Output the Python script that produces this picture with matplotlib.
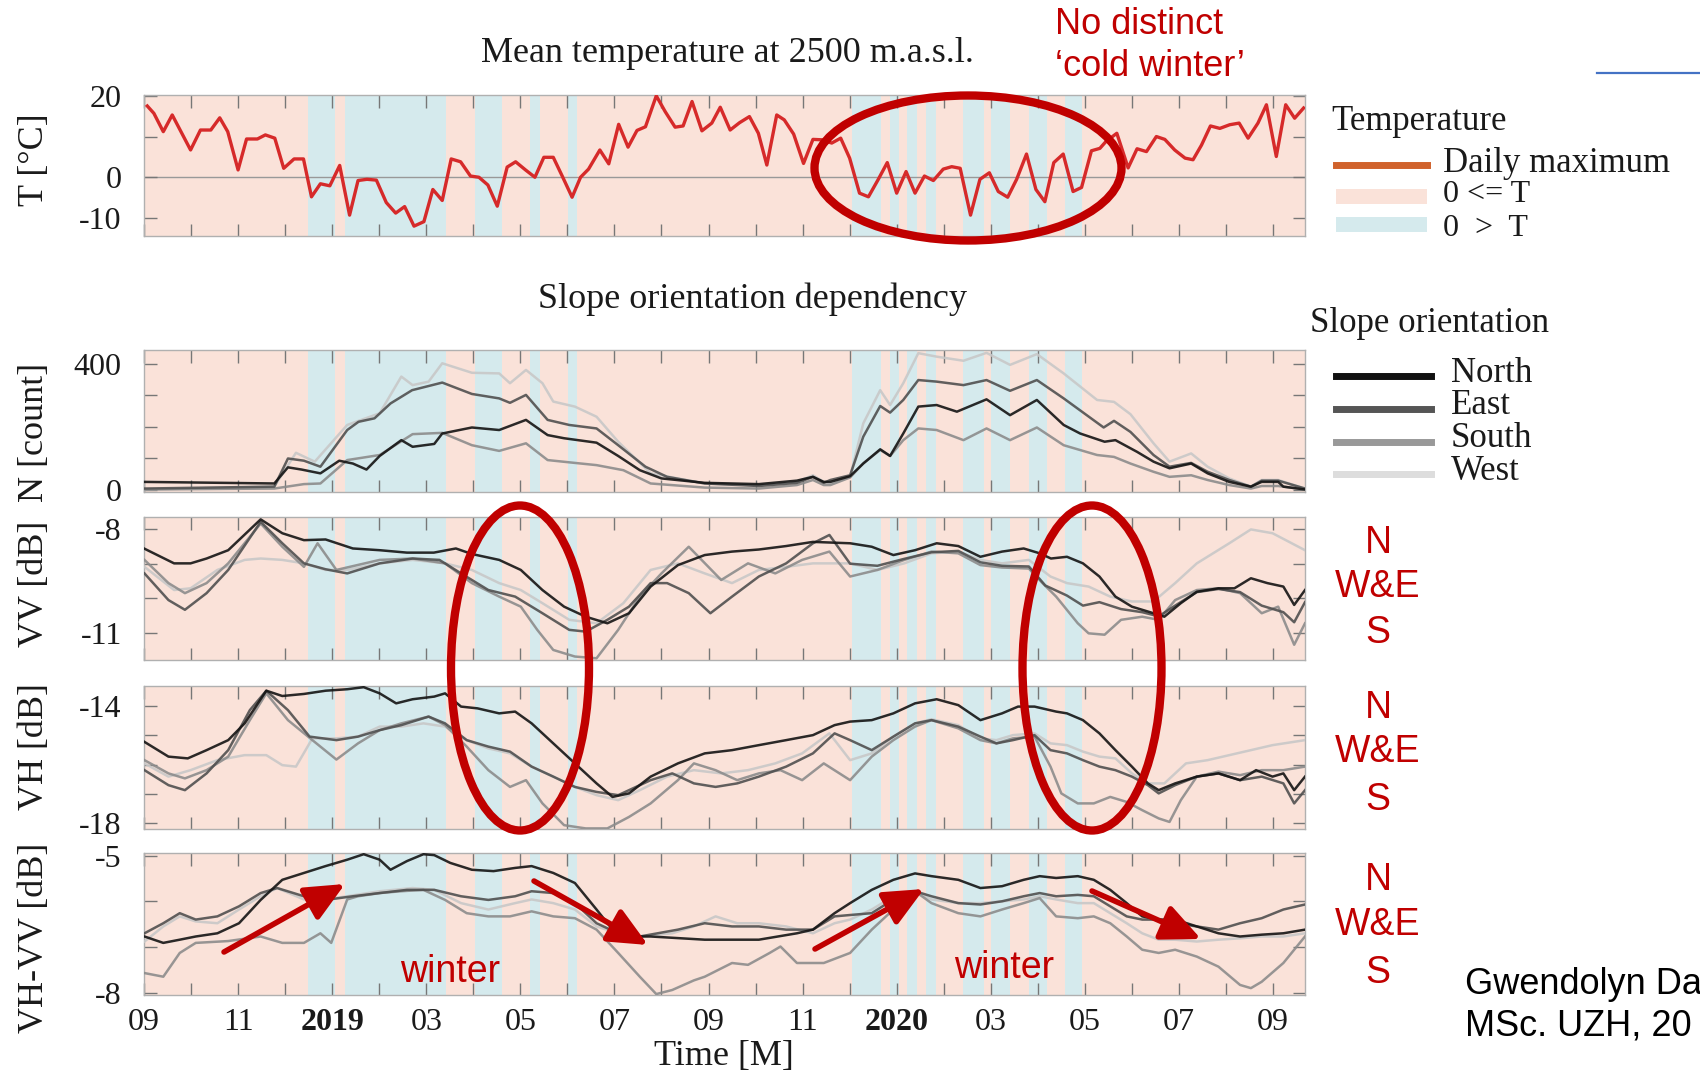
import matplotlib

matplotlib.use('Agg')
import matplotlib.pyplot as plt
from matplotlib.patches import Ellipse, Rectangle, FancyArrowPatch
from matplotlib.lines import Line2D

plt.rcParams['font.family'] = ['Liberation Serif', 'DejaVu Serif']
SANS = ['Liberation Sans', 'DejaVu Sans']

# x axis: months since 1 Sep 2018
month_labels = ['09', '', '11', '', '2019', '', '03', '', '05', '', '07', '', '09',
                '', '11', '', '2020', '', '03', '', '05', '', '07', '', '09']

# periods with mean temperature below zero (blue background)
frost_periods = [(3.49, 4.06), (4.27, 6.43), (7.03, 7.60), (8.21, 8.41), (9.01, 9.21),
                 (15.05, 15.67), (15.85, 16.05), (16.23, 16.43), (16.63, 16.83),
                 (17.41, 17.85), (18.00, 18.40), (18.82, 19.20), (19.58, 19.93)]

# daily maximum temperature (month, degC)
t_daily_max = [(0.07, 17.5), (0.21, 15.7), (0.41, 11.2), (0.60, 15.3), (0.99, 6.7), (1.20, 11.6),
               (1.42, 11.6), (1.61, 14.6), (1.78, 11.2), (2.00, 1.8), (2.18, 9.4), (2.41, 9.4),
               (2.58, 10.4), (2.78, 9.6), (2.97, 2.2), (3.19, 4.5), (3.39, 4.5), (3.56, -4.8),
               (3.75, -1.6), (3.95, -2.1), (4.16, 2.9), (4.37, -9.3), (4.55, -0.8), (4.74, -0.5),
               (4.94, -0.7), (5.15, -6.2), (5.35, -8.8), (5.54, -7.2), (5.74, -12.0), (5.95, -10.9),
               (6.14, -3.0), (6.34, -5.7), (6.53, 4.5), (6.73, 3.8), (6.94, 0.3), (7.12, 0.0),
               (7.31, -1.9), (7.51, -7.1), (7.72, 2.5), (7.90, 3.8), (8.11, 1.8), (8.31, 0.0),
               (8.50, 4.9), (8.70, 4.9), (8.89, 0.3), (9.10, -4.9), (9.28, 0.0), (9.45, 2.0),
               (9.69, 6.7), (9.88, 3.3), (10.09, 13.0), (10.29, 7.4), (10.48, 11.5), (10.66, 12.4),
               (10.89, 20.0), (11.08, 16.1), (11.29, 12.3), (11.46, 12.6), (11.65, 18.6), (11.86, 11.4),
               (12.07, 13.3), (12.25, 17.2), (12.46, 11.6), (12.66, 13.4), (12.87, 14.9), (13.06, 10.8),
               (13.24, 3.0), (13.45, 15.3), (13.61, 14.1), (13.81, 10.6), (14.02, 3.4), (14.22, 9.3),
               (14.41, 9.2), (14.62, 8.4), (14.81, 9.6), (15.00, 4.7), (15.21, -3.9), (15.40, -4.8),
               (15.60, -0.7), (15.80, 3.6), (16.00, -3.9), (16.20, 1.4), (16.39, -3.9), (16.59, 0.3),
               (16.78, -0.8), (16.99, 2.0), (17.17, 2.6), (17.35, 2.2), (17.57, -9.3), (17.77, -0.5),
               (17.97, 1.1), (18.16, -3.5), (18.36, -4.9), (18.55, -0.5), (18.76, 5.7), (18.96, -3.0),
               (19.15, -6.0), (19.34, 3.6), (19.54, 5.7), (19.75, -3.5), (19.93, -2.5), (20.14, 6.5),
               (20.32, 7.1), (20.45, 8.8), (20.68, 10.8), (20.92, 2.3), (21.11, 7.0), (21.31, 6.3),
               (21.52, 10.0), (21.70, 9.3), (21.91, 6.7), (22.13, 4.7), (22.30, 4.3), (22.48, 7.9),
               (22.67, 12.6), (22.87, 12.0), (23.08, 12.9), (23.28, 13.3), (23.47, 9.6), (23.68, 13.3),
               (23.86, 17.8), (24.07, 5.1), (24.27, 17.8), (24.46, 14.5), (24.65, 17.0)]

# N [count]
n_north = [(0.0, 26), (2.77, 21), (3.06, 72), (3.35, 65), (3.75, 53), (4.15, 93), (4.44, 84), (4.73, 65),
           (5.01, 108), (5.47, 158), (5.71, 137), (6.17, 146), (6.34, 179), (6.97, 198), (7.55, 190),
           (8.12, 222), (8.58, 174), (8.93, 164), (9.62, 150), (10.08, 108), (10.54, 63), (11.00, 37),
           (11.92, 23), (13.07, 19), (13.88, 30), (14.22, 42), (14.45, 26), (14.59, 26), (15.01, 44),
           (15.29, 84), (15.65, 129), (15.86, 108), (16.14, 179), (16.46, 264), (16.85, 269), (17.28, 248),
           (17.91, 287), (18.41, 237), (18.98, 285), (19.55, 206), (19.90, 179), (20.42, 153), (20.65, 158),
           (21.11, 121), (21.46, 90), (21.80, 69), (22.26, 84), (22.61, 53), (23.07, 26), (23.53, 11),
           (23.76, 26), (24.11, 26), (24.22, 11), (24.68, 2)]
n_east = [(0.0, 5), (2.77, 11), (3.06, 100), (3.40, 93), (3.75, 74), (4.32, 190), (4.56, 216), (4.90, 227),
          (5.24, 274), (5.70, 316), (6.34, 340), (6.97, 304), (7.55, 290), (7.78, 276), (8.12, 301),
          (8.58, 222), (9.04, 206), (9.62, 195), (10.08, 142), (10.66, 74), (11.12, 42), (11.92, 21),
          (13.07, 13), (13.88, 23), (14.22, 42), (14.45, 23), (14.59, 32), (15.01, 47), (15.29, 169),
          (15.65, 266), (15.86, 245), (16.14, 285), (16.46, 348), (16.85, 343), (17.42, 332), (17.91, 348),
          (18.41, 314), (18.98, 348), (19.55, 290), (20.40, 198), (20.62, 219), (20.97, 184), (21.46, 111),
          (21.80, 74), (22.26, 86), (22.61, 58), (23.07, 32), (23.53, 11), (23.76, 30), (24.11, 30),
          (24.68, 5)]
n_south = [(0.0, 2), (2.77, 5), (3.40, 19), (3.75, 21), (4.32, 95), (5.01, 111), (5.71, 177), (6.34, 181),
           (6.97, 142), (7.55, 124), (8.12, 148), (8.58, 95), (9.16, 86), (9.62, 79), (10.19, 63),
           (10.77, 21), (11.92, 8), (13.07, 5), (13.88, 16), (14.22, 32), (14.45, 16), (14.59, 16),
           (15.01, 40), (15.29, 85), (15.65, 127), (15.86, 108), (16.14, 158), (16.46, 195), (16.85, 190),
           (17.42, 158), (17.91, 195), (18.41, 158), (18.98, 198), (19.55, 142), (20.26, 111), (20.62, 105),
           (20.97, 84), (21.46, 58), (21.80, 42), (22.26, 47), (22.61, 32), (23.07, 16), (23.53, 5),
           (23.76, 13), (24.11, 13), (24.68, 2)]
n_west = [(0.0, 2), (2.77, 11), (3.23, 118), (3.63, 90), (4.32, 206), (5.01, 243), (5.47, 359), (5.71, 332),
          (6.05, 343), (6.34, 401), (6.97, 371), (7.55, 369), (7.78, 338), (8.12, 380), (8.47, 338),
          (8.70, 280), (9.16, 264), (9.62, 232), (10.08, 153), (10.77, 53), (11.92, 21), (13.07, 16),
          (13.88, 26), (14.22, 47), (14.45, 26), (14.59, 21), (15.01, 42), (15.29, 211), (15.65, 316),
          (15.86, 269), (16.14, 338), (16.46, 433), (16.85, 422), (17.42, 409), (17.91, 434), (18.41, 396),
          (18.98, 430), (19.55, 369), (20.26, 285), (20.62, 279), (20.97, 240), (21.46, 148), (21.80, 90),
          (22.26, 116), (22.61, 74), (23.07, 37), (23.53, 11), (23.76, 32), (24.11, 32), (24.68, 5)]

# VV [dB]
vv_north = [(0.0, -8.56), (0.64, -8.99), (0.99, -8.99), (1.33, -8.85), (1.79, -8.61), (2.48, -7.72),
            (2.94, -8.12), (3.40, -8.32), (3.86, -8.30), (4.44, -8.56), (5.01, -8.61), (5.59, -8.68),
            (6.16, -8.68), (6.63, -8.56), (6.97, -8.72), (7.55, -8.89), (8.01, -9.18), (8.47, -9.76),
            (8.93, -10.24), (9.39, -10.53), (9.85, -10.72), (10.31, -10.43), (10.77, -9.66), (11.35, -9.04),
            (11.92, -8.75), (12.50, -8.65), (13.07, -8.59), (13.65, -8.49), (14.22, -8.37), (15.01, -8.41),
            (15.47, -8.51), (15.93, -8.75), (16.39, -8.61), (16.85, -8.41), (17.31, -8.49), (17.78, -8.80),
            (18.24, -8.65), (18.70, -8.56), (19.04, -8.70), (19.28, -8.85), (19.62, -8.80), (19.96, -8.99),
            (20.31, -9.37), (20.65, -9.95), (21.00, -10.24), (21.46, -10.43), (21.69, -10.53), (22.04, -10.14),
            (22.38, -9.81), (22.84, -9.71), (23.18, -9.71), (23.53, -9.42), (23.88, -9.56), (24.22, -9.66),
            (24.45, -10.19), (24.68, -9.76)]
vv_east = [(0.01, -9.28), (0.52, -10.05), (0.87, -10.33), (1.33, -9.85), (1.79, -9.18), (2.48, -7.79),
           (2.94, -8.41), (3.40, -8.99), (3.86, -9.16), (4.32, -9.28), (5.01, -8.99), (5.71, -8.85),
           (6.28, -8.89), (6.74, -9.28), (7.32, -9.76), (7.89, -9.95), (8.47, -10.43), (9.04, -10.91),
           (9.39, -10.96), (9.85, -10.62), (10.31, -10.24), (10.77, -9.56), (11.12, -9.56), (11.58, -9.85),
           (12.04, -10.43), (12.50, -9.95), (13.07, -9.37), (13.65, -8.99), (14.22, -8.41), (14.57, -8.17),
           (15.01, -9.00), (15.59, -9.06), (16.16, -8.86), (16.74, -8.67), (17.31, -8.63), (17.78, -8.96),
           (18.24, -9.06), (18.81, -9.08), (19.16, -9.63), (19.62, -9.92), (19.96, -10.21), (20.31, -10.11),
           (20.77, -10.31), (21.22, -10.40), (21.57, -10.52), (21.92, -10.21), (22.38, -9.82), (22.84, -9.73),
           (23.30, -9.82), (23.76, -10.21), (24.22, -10.40), (24.45, -10.69), (24.68, -10.11)]
vv_south = [(0.01, -8.89), (0.52, -9.56), (0.87, -9.85), (1.33, -9.56), (1.79, -8.99), (2.48, -7.84),
            (2.94, -8.51), (3.40, -9.09), (3.69, -8.41), (4.09, -9.18), (5.01, -8.89), (5.71, -8.85),
            (6.40, -8.99), (6.97, -9.56), (7.55, -9.95), (8.01, -10.24), (8.36, -10.91), (8.70, -11.49),
            (9.16, -11.68), (9.62, -11.73), (10.08, -10.91), (10.54, -9.95), (11.00, -9.28), (11.58, -8.51),
            (12.27, -9.47), (12.84, -8.99), (13.42, -9.28), (13.99, -8.89), (14.57, -8.65), (15.01, -9.37),
            (15.59, -9.18), (16.16, -8.89), (16.74, -8.65), (17.31, -8.70), (17.78, -9.04), (18.24, -9.11),
            (18.81, -9.14), (19.10, -9.56), (19.39, -9.95), (19.85, -10.72), (20.08, -11.01), (20.42, -11.05),
            (20.77, -10.62), (21.22, -10.53), (21.57, -10.62), (21.92, -10.05), (22.38, -9.76), (22.84, -9.71),
            (23.30, -9.85), (23.76, -10.43), (24.11, -10.24), (24.45, -11.34), (24.68, -10.72)]
vv_west = [(0.01, -9.09), (0.64, -9.76), (0.99, -9.71), (1.56, -9.18), (2.14, -8.89), (2.48, -8.85),
           (2.94, -8.89), (3.40, -8.99), (3.86, -9.18), (4.32, -9.18), (5.01, -8.99), (5.71, -8.89),
           (6.40, -8.99), (6.97, -9.18), (7.55, -9.56), (8.01, -9.76), (8.47, -10.14), (9.04, -10.62),
           (9.62, -10.72), (10.19, -10.14), (10.77, -9.18), (11.35, -8.99), (11.92, -9.28), (12.50, -9.56),
           (13.07, -9.18), (13.65, -9.09), (14.22, -8.99), (15.01, -8.99), (15.59, -9.18), (16.16, -8.99),
           (16.74, -8.70), (17.31, -8.65), (17.78, -8.89), (18.24, -8.99), (18.81, -8.89), (19.27, -9.37),
           (19.62, -9.56), (20.08, -9.66), (20.54, -9.95), (21.00, -10.09), (21.46, -10.09), (21.92, -9.56),
           (22.38, -8.99), (23.07, -8.41), (23.53, -8.01), (23.99, -8.12), (24.68, -8.61)]

# VH [dB]
vh_north = [(0.0, -15.22), (0.52, -15.73), (0.93, -15.79), (1.33, -15.51), (1.79, -15.17), (2.14, -14.60),
            (2.60, -13.49), (2.94, -13.67), (3.40, -13.60), (3.86, -13.49), (4.32, -13.44), (4.67, -13.37),
            (5.01, -13.58), (5.36, -13.92), (5.71, -13.78), (6.17, -13.69), (6.40, -13.58), (6.74, -14.03),
            (7.09, -14.09), (7.55, -14.26), (7.89, -14.20), (8.24, -14.60), (8.70, -15.28), (9.16, -15.96),
            (9.62, -16.64), (9.96, -17.10), (10.31, -16.98), (10.77, -16.41), (11.35, -15.96), (11.92, -15.62),
            (12.50, -15.51), (13.07, -15.34), (13.65, -15.17), (14.22, -15.00), (14.68, -14.66), (15.01, -14.54),
            (15.47, -14.49), (15.93, -14.26), (16.39, -13.92), (16.85, -13.78), (17.31, -13.98), (17.78, -14.49),
            (18.24, -14.26), (18.58, -14.03), (18.93, -14.03), (19.39, -14.20), (19.62, -14.26), (19.96, -14.49),
            (20.31, -14.94), (20.65, -15.51), (21.00, -16.07), (21.34, -16.64), (21.57, -16.87), (21.92, -16.64),
            (22.38, -16.41), (22.84, -16.30), (23.30, -16.53), (23.64, -16.19), (23.99, -16.41), (24.22, -16.30),
            (24.45, -16.87), (24.68, -16.41)]
vh_east = [(0.01, -16.19), (0.52, -16.70), (0.87, -16.87), (1.33, -16.30), (1.79, -15.51), (2.25, -14.15),
           (2.60, -13.49), (3.06, -14.15), (3.52, -15.05), (4.09, -15.17), (4.55, -15.05), (5.01, -14.83),
           (5.47, -14.66), (6.05, -14.37), (6.40, -14.60), (6.86, -15.17), (7.32, -15.39), (7.78, -15.56),
           (8.24, -16.07), (8.70, -16.41), (9.16, -16.76), (9.62, -16.93), (10.08, -17.04), (10.77, -16.53),
           (11.23, -16.30), (11.69, -16.64), (12.15, -16.76), (12.61, -16.64), (13.07, -16.41), (13.65, -16.07),
           (14.22, -15.62), (14.68, -14.94), (15.01, -15.17), (15.47, -15.51), (15.93, -15.05), (16.39, -14.60),
           (16.74, -14.49), (17.31, -14.71), (17.78, -15.05), (18.12, -15.28), (18.47, -15.17), (18.93, -15.00),
           (19.27, -15.51), (19.62, -15.62), (19.96, -15.85), (20.31, -16.07), (20.65, -16.19), (21.00, -16.41),
           (21.34, -16.70), (21.57, -16.98), (21.92, -16.70), (22.38, -16.41), (22.84, -16.30), (23.30, -16.53),
           (23.76, -16.41), (24.22, -16.64), (24.45, -17.32), (24.68, -16.87)]
vh_south = [(0.01, -15.85), (0.52, -16.30), (0.87, -16.47), (1.33, -16.19), (1.79, -15.73), (2.25, -14.49),
            (2.60, -13.58), (3.06, -14.49), (3.58, -15.17), (4.09, -15.83), (4.55, -15.28), (5.01, -14.83),
            (5.47, -14.60), (6.05, -14.37), (6.40, -14.66), (6.86, -15.39), (7.32, -16.19), (7.78, -16.76),
            (8.12, -16.53), (8.47, -17.32), (8.93, -18.06), (9.39, -18.17), (9.85, -18.17), (10.31, -17.78),
            (10.77, -17.32), (11.35, -16.53), (11.69, -15.96), (12.15, -16.19), (12.61, -16.53), (13.07, -16.30),
            (13.53, -16.19), (13.99, -16.53), (14.45, -15.96), (15.01, -16.53), (15.47, -15.73), (15.93, -15.17),
            (16.39, -14.71), (16.74, -14.49), (17.31, -14.77), (17.78, -15.17), (18.12, -15.28), (18.47, -15.11),
            (18.93, -15.05), (19.27, -16.07), (19.50, -16.98), (19.85, -17.32), (20.19, -17.32), (20.54, -17.10),
            (20.89, -17.27), (21.22, -17.55), (21.57, -17.83), (21.80, -17.95), (22.04, -17.21), (22.38, -16.41),
            (22.84, -16.24), (23.30, -16.36), (23.76, -16.19), (24.22, -16.19), (24.68, -16.07)]
vh_west = [(0.01, -15.96), (0.52, -16.41), (0.99, -16.19), (1.56, -15.85), (2.14, -15.68), (2.60, -15.68),
           (2.94, -16.02), (3.23, -16.07), (3.58, -15.11), (4.09, -15.11), (4.55, -15.05), (5.01, -14.71),
           (5.47, -14.71), (5.94, -14.60), (6.40, -14.71), (6.86, -15.17), (7.32, -15.45), (7.78, -15.62),
           (8.24, -16.07), (8.70, -16.41), (9.16, -16.76), (9.62, -17.04), (10.08, -17.21), (10.54, -16.87),
           (11.12, -16.41), (11.69, -16.19), (12.27, -16.30), (12.84, -16.19), (13.42, -15.96), (13.99, -15.62),
           (14.57, -14.94), (15.01, -15.85), (15.47, -15.62), (15.93, -15.05), (16.39, -14.60), (16.74, -14.46),
           (17.31, -14.66), (17.78, -15.11), (18.12, -15.17), (18.47, -15.00), (18.93, -14.94), (19.27, -15.28),
           (19.62, -15.34), (19.96, -15.56), (20.31, -15.73), (20.65, -15.79), (21.00, -16.30), (21.34, -16.64),
           (21.69, -16.64), (22.15, -15.96), (22.61, -15.85), (23.07, -15.68), (23.53, -15.51), (23.99, -15.34),
           (24.68, -15.17)]

# VH-VV [dB]
d_north = [(0.01, -6.77), (0.41, -6.91), (0.76, -6.84), (1.10, -6.77), (1.56, -6.70), (2.02, -6.48),
           (2.48, -5.97), (2.94, -5.53), (3.40, -5.38), (3.86, -5.23), (4.32, -5.09), (4.67, -4.97),
           (5.01, -5.09), (5.24, -5.31), (5.59, -5.12), (5.94, -4.97), (6.17, -4.99), (6.51, -5.16),
           (6.97, -5.31), (7.43, -5.34), (7.89, -5.27), (8.24, -5.23), (8.70, -5.38), (9.16, -5.60),
           (9.62, -6.18), (9.96, -6.62), (10.31, -6.77), (10.77, -6.77), (11.92, -6.84), (13.07, -6.84),
           (13.88, -6.70), (14.22, -6.62), (14.68, -6.26), (15.01, -6.04), (15.47, -5.75), (15.93, -5.53),
           (16.39, -5.39), (16.74, -5.45), (17.31, -5.53), (17.78, -5.71), (18.24, -5.67), (18.70, -5.53),
           (19.04, -5.45), (19.39, -5.49), (19.85, -5.45), (20.19, -5.53), (20.54, -5.75), (20.89, -6.04),
           (21.22, -6.33), (21.57, -6.40), (21.92, -6.40), (22.38, -6.55), (22.84, -6.70), (23.30, -6.77),
           (23.76, -6.73), (24.22, -6.70), (24.68, -6.62)]
d_east = [(0.01, -6.70), (0.41, -6.48), (0.76, -6.26), (1.10, -6.40), (1.56, -6.33), (2.02, -6.11),
          (2.48, -5.82), (2.83, -5.71), (3.40, -5.89), (3.86, -5.97), (4.44, -5.89), (5.01, -5.82),
          (5.59, -5.75), (6.17, -5.75), (6.74, -5.89), (7.32, -5.97), (7.89, -5.89), (8.24, -5.78),
          (8.70, -5.82), (9.16, -6.04), (9.62, -6.48), (10.08, -6.70), (10.54, -6.77), (11.35, -6.62),
          (11.92, -6.48), (12.50, -6.55), (13.07, -6.55), (13.65, -6.62), (14.22, -6.62), (14.68, -6.33),
          (15.01, -6.30), (15.47, -6.26), (15.93, -5.96), (16.39, -5.78), (16.74, -5.89), (17.31, -6.04),
          (17.78, -6.07), (18.24, -6.00), (18.70, -5.89), (19.04, -5.82), (19.39, -5.89), (19.85, -5.86),
          (20.19, -5.89), (20.54, -6.11), (20.89, -6.33), (21.22, -6.40), (21.57, -6.40), (21.92, -6.48),
          (22.38, -6.55), (22.84, -6.62), (23.30, -6.48), (23.76, -6.37), (24.22, -6.18), (24.68, -6.07)]
d_south = [(0.01, -7.57), (0.41, -7.65), (0.76, -7.13), (1.10, -6.91), (1.79, -6.87), (2.48, -6.77),
           (2.94, -6.91), (3.40, -6.91), (3.75, -6.70), (3.98, -6.91), (4.32, -5.96), (4.55, -5.89),
           (5.01, -5.82), (5.47, -5.78), (5.94, -5.75), (6.40, -5.97), (6.86, -6.26), (7.32, -6.33),
           (7.78, -6.33), (8.24, -6.22), (8.70, -6.33), (9.16, -6.37), (9.62, -6.62), (10.08, -7.13),
           (10.54, -7.65), (10.89, -8.03), (11.23, -7.94), (11.69, -7.73), (11.92, -7.65), (12.50, -7.35),
           (12.84, -7.39), (13.30, -7.13), (13.53, -6.99), (13.88, -7.35), (14.45, -7.35), (15.01, -7.13),
           (15.47, -6.62), (15.93, -6.18), (16.39, -5.78), (16.74, -6.04), (17.31, -6.26), (17.78, -6.33),
           (18.24, -6.18), (18.70, -6.04), (19.04, -5.93), (19.39, -6.33), (19.85, -6.37), (20.19, -6.33),
           (20.54, -6.48), (20.89, -6.77), (21.22, -7.06), (21.57, -7.13), (21.92, -7.06), (22.38, -7.21),
           (22.84, -7.43), (23.30, -7.83), (23.53, -7.90), (23.76, -7.76), (24.22, -7.35), (24.68, -6.77)]
d_west = [(0.01, -6.88), (0.41, -6.55), (0.76, -6.33), (1.10, -6.44), (1.56, -6.48), (2.02, -6.18),
          (2.48, -5.89), (2.83, -5.71), (3.40, -5.96), (3.86, -5.96), (4.32, -5.89), (5.01, -5.78),
          (5.71, -5.71), (6.17, -5.75), (6.74, -6.04), (7.32, -6.18), (7.89, -6.04), (8.24, -5.96),
          (8.70, -6.04), (9.16, -6.18), (9.62, -6.55), (10.08, -6.70), (10.54, -6.77), (11.23, -6.70),
          (11.69, -6.55), (12.15, -6.33), (12.61, -6.48), (13.07, -6.48), (13.65, -6.55), (14.22, -6.70),
          (14.68, -6.48), (15.01, -6.40), (15.47, -6.18), (15.93, -5.89), (16.39, -5.78), (16.74, -5.96),
          (17.31, -6.04), (17.78, -6.04), (18.24, -6.00), (18.70, -5.96), (19.04, -5.89), (19.39, -5.96),
          (19.85, -6.04), (20.19, -6.04), (20.54, -6.26), (20.89, -6.48), (21.22, -6.70), (21.57, -6.84),
          (21.92, -6.84), (22.38, -6.88), (22.84, -6.84), (23.30, -6.81), (23.76, -6.77), (24.22, -6.77),
          (24.68, -6.70)]

PINK = '#fae2d9'
BLUE = '#d5eaed'
RED = '#c00000'
TXT = '#1a1a1a'
orient_colors = {'North': '#141414', 'East': '#505050', 'South': '#8c8c8c', 'West': '#c8c8c8'}
legend_colors = {'North': '#111111', 'East': '#555555', 'South': '#999999', 'West': '#dddddd'}

W, H = 1700, 1079
fig = plt.figure(figsize=(W / 100, H / 100), dpi=100)


def fx(px):
    return px / W


def fy(py):
    return 1 - py / H


def add_panel(top, bottom):
    return fig.add_axes([fx(144), fy(bottom), fx(1305) - fx(144), (bottom - top) / H])


ax_t = add_panel(95, 235.7)
ax_n = add_panel(350, 491.7)
ax_vv = add_panel(517.3, 660)
ax_vh = add_panel(686, 829)
ax_d = add_panel(853.3, 995)
all_axes = [ax_t, ax_n, ax_vv, ax_vh, ax_d]

for ax in all_axes:
    ax.set_facecolor(PINK)
    for a, b in frost_periods:
        ax.axvspan(a, b, color=BLUE, lw=0, zorder=0)
    ax.set_xlim(0, 24.68)
    ax.set_xticks(range(25))
    ax.tick_params(direction='in', length=9, width=1, color='#777777', top=True, right=True,
                   labelsize=23, labelcolor=TXT, pad=16)
    ax.tick_params(axis='x', labelbottom=False)
    for s in ax.spines.values():
        s.set_color('#b0b0b0')
        s.set_linewidth(1)

# temperature panel
tx, tv = zip(*t_daily_max)
ax_t.axhline(0, color='#999999', lw=1, zorder=1)
ax_t.plot(tx, tv, color='#d62a2a', lw=2.4, zorder=3)
ax_t.set_ylim(-14.35, 20.2)
ax_t.set_yticks([-10, 0, 10, 20], ['-10', '0', '', '20'])

panel_series = [
    (ax_n, {'North': n_north, 'East': n_east, 'South': n_south, 'West': n_west},
     (-5, 443), [0, 100, 200, 300, 400], ['0', '', '', '', '400']),
    (ax_vv, {'North': vv_north, 'East': vv_east, 'South': vv_south, 'West': vv_west},
     (-11.78, -7.66), [-11, -10, -9, -8], ['-11', '', '', '-8']),
    (ax_vh, {'North': vh_north, 'East': vh_east, 'South': vh_south, 'West': vh_west},
     (-18.19, -13.33), [-18, -17, -16, -15, -14], ['-18', '', '', '', '-14']),
    (ax_d, {'North': d_north, 'East': d_east, 'South': d_south, 'West': d_west},
     (-8.05, -4.95), [-8, -7, -6, -5], ['-8', '', '', '-5']),
]
for ax, series, ylim, ticks, labels in panel_series:
    for name in ['West', 'South', 'East', 'North']:
        xs, ys = zip(*series[name])
        ax.plot(xs, ys, color=orient_colors[name], lw=1.8, alpha=0.9, zorder=3)
    ax.set_ylim(*ylim)
    ax.set_yticks(ticks, labels)

ax_d.tick_params(axis='x', labelbottom=True, pad=9)
ax_d.set_xticks(range(25), month_labels)
for lbl in ax_d.get_xticklabels():
    if lbl.get_text() in ('2019', '2020'):
        lbl.set_fontweight('bold')

# titles and axis labels
fig.text(fx(727), fy(53), 'Mean temperature at 2500 m.a.s.l.', ha='center', va='center', fontsize=26, color=TXT)
fig.text(fx(753), fy(299), 'Slope orientation dependency', ha='center', va='center', fontsize=26, color=TXT)
fig.text(fx(724), fy(1057), 'Time [M]', ha='center', va='center', fontsize=26, color=TXT)
for label, yc in [('T [°C]', 160), ('N [count]', 432), ('VV [dB]', 584), ('VH [dB]', 747), ('VH-VV [dB]', 938)]:
    fig.text(fx(35), fy(yc), label, rotation=90, ha='center', va='center', fontsize=26, color=TXT)

# temperature legend
fig.text(fx(1331), fy(121), 'Temperature', ha='left', va='center', fontsize=25, color=TXT)
fig.add_artist(Line2D([fx(1336), fx(1427)], [fy(165), fy(165)], transform=fig.transFigure,
                      color='#d0622c', lw=5))
fig.text(fx(1443), fy(163), 'Daily maximum', ha='left', va='center', fontsize=25, color=TXT)
fig.add_artist(Rectangle((fx(1336), fy(204)), fx(1427) - fx(1336), 15 / H, transform=fig.transFigure,
                         color=PINK, lw=0))
fig.text(fx(1443), fy(195), '0 <= T', ha='left', va='center', fontsize=23, color=TXT)
fig.add_artist(Rectangle((fx(1336), fy(232)), fx(1427) - fx(1336), 15 / H, transform=fig.transFigure,
                         color=BLUE, lw=0))
fig.text(fx(1443), fy(228), '0  >  T', ha='left', va='center', fontsize=23, color=TXT)

# slope orientation legend
fig.text(fx(1310), fy(323), 'Slope orientation', ha='left', va='center', fontsize=25, color=TXT)
for name, yc in [('North', 376), ('East', 409), ('South', 442), ('West', 474)]:
    fig.add_artist(Line2D([fx(1336), fx(1431)], [fy(yc), fy(yc)], transform=fig.transFigure,
                          color=legend_colors[name], lw=5))
    fig.text(fx(1451), fy(yc - 3), name, ha='left', va='center', fontsize=25, color=TXT)

# red annotations
fig.text(fx(1055), fy(24), 'No distinct', ha='left', va='center', fontsize=26, color=RED, family=SANS)
fig.text(fx(1055), fy(66), '\u2018cold winter\u2019', ha='left', va='center', fontsize=26, color=RED, family=SANS)
for cx, cy, w, h in [(968, 168, 307, 145), (520, 668, 138, 325), (1092, 668, 139, 325)]:
    fig.add_artist(Ellipse((fx(cx), fy(cy)), w / W, h / H, transform=fig.transFigure,
                           fill=False, ec=RED, lw=6, zorder=10))
for ys in [(543, 587, 633), (708, 752, 800), (880, 925, 973)]:
    for txt, yc in zip(['N', 'W&E', 'S'], ys):
        fig.text(fx(1378), fy(yc), txt, ha='center', va='center', fontsize=27, color=RED, family=SANS)
for (x0, y0), (x1, y1) in [((224, 952), (345, 884)), ((534, 881), (648, 945)),
                           ((815, 949), (924, 889)), ((1092, 891), (1201, 939))]:
    fig.add_artist(FancyArrowPatch((fx(x0), fy(y0)), (fx(x1), fy(y1)), transform=fig.transFigure,
                                   arrowstyle='-|>,head_length=1.2,head_width=0.55', mutation_scale=20,
                                   lw=4, color=RED, shrinkA=0, shrinkB=0, zorder=10))
fig.text(fx(450), fy(972), 'winter', ha='center', va='center', fontsize=27, color=RED, family=SANS)
fig.text(fx(1004), fy(968), 'winter', ha='center', va='center', fontsize=27, color=RED, family=SANS)

# credit and slide decoration
fig.text(fx(1465), fy(985), 'Gwendolyn Da', ha='left', va='center', fontsize=26, color='black', family=SANS)
fig.text(fx(1465), fy(1026), 'MSc. UZH, 20', ha='left', va='center', fontsize=26, color='black', family=SANS)
fig.add_artist(Line2D([fx(1597), fx(1700)], [fy(73), fy(73)], transform=fig.transFigure, color='#4472c4', lw=1.6))

fig.savefig('out.png', dpi=100)
